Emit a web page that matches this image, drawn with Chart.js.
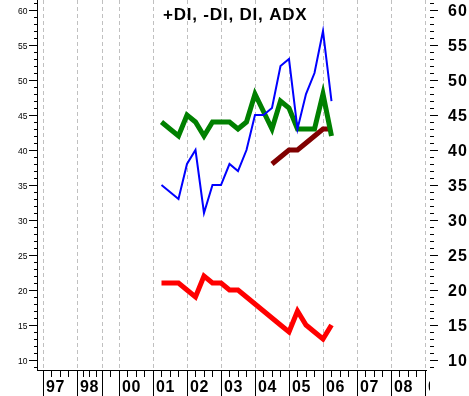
<!DOCTYPE html>
<html>
<head>
<meta charset="utf-8">
<script src="https://cdn.jsdelivr.net/npm/chart.js@4/dist/chart.umd.min.js"></script>
<style>
  html, body { margin: 0; padding: 0; background: #fff; }
  #wrap { width: 469px; height: 396px; }
</style>
</head>
<body>
<div id="wrap"><canvas id="diChart" width="469" height="396"></canvas></div>
<script>
// ── +DI / -DI / DI / ADX – quarterly ──

const dates   = [2001.25,2001.5,2001.75,2002,2002.25,2002.5,2002.75,2003,2003.25,2003.5,2003.75,
                 2004,2004.25,2004.5,2004.75,2005,2005.25,2005.5,2005.75,2006,2006.25];
const plusDI  = [35,34,33,38,40,31,35,35,38,37,40,45,45,46,52,53,43,48,51,57,47];
const minusDI = [21,21,21,20,19,22,21,21,20,20,19,18,17,16,15,14,17,15,14,13,15];
const diLine  = [44,43,42,45,44,42,44,44,44,43,44,48,45.5,43,47,46,43,43,43,48,42];
const adx     = [null,null,null,null,null,null,null,null,null,null,null,null,null,38,39,40,40,41,42,43,43];

// year boundaries on the time axis (early years are squeezed in the source)
const yearTicks  = [1997.765,1998.765,1999.5,2000,2001,2002,2003,2004,2005,2006,2007,2008,2009];
const yearLabels = ['97','98','','00','01','02','03','04','05','06','07','08','09'];
const yLabels    = [10,15,20,25,30,35,40,45,50,55,60];

const pts = arr => dates.map((d, i) => ({ x: d, y: arr[i] }));

const decor = {
  id: 'decor',
  beforeDatasetsDraw(chart) {
    const { ctx, chartArea: a, scales: { x } } = chart;
    ctx.save();
    ctx.strokeStyle = '#c0c0c0'; ctx.lineWidth = 1; ctx.setLineDash([4, 3]);
    yearTicks.forEach(t => {
      const px = Math.round(x.getPixelForValue(t)) + 0.5;
      ctx.beginPath(); ctx.moveTo(px, a.top); ctx.lineTo(px, a.bottom); ctx.stroke();
    });
    ctx.restore();
  },
  afterDraw(chart) {
    const { ctx, chartArea: a, scales: { x, y } } = chart;
    ctx.save();
    ctx.fillStyle = '#000';
    // axis lines
    ctx.fillRect(a.left - 1, a.top, 1, a.bottom - a.top + 1);
    ctx.fillRect(a.left - 1, a.bottom, a.right - a.left + 1, 1);
    // y ticks both sides
    for (let v = 9; v <= 61; v++) {
      const py = Math.round(y.getPixelForValue(v));
      const major = v % 5 === 0;
      ctx.fillRect(major ? a.left - 9 : a.left - 4, py, major ? 8 : 3, 1);
      ctx.fillRect(a.right + 3, py, major ? 8 : 4, 1);
    }
    // left labels (small)
    ctx.font = '8.5px "Liberation Sans", Arial, sans-serif';
    ctx.textAlign = 'right'; ctx.textBaseline = 'alphabetic';
    yLabels.forEach(v => ctx.fillText(String(v), a.left - 10.5, Math.round(y.getPixelForValue(v)) + 3.5));
    // right labels (bold)
    ctx.font = 'bold 16px "Liberation Sans", Arial, sans-serif';
    ctx.letterSpacing = '1px';
    ctx.textAlign = 'left';
    yLabels.forEach(v => ctx.fillText(String(v), a.right + 21, Math.round(y.getPixelForValue(v)) + 6));
    // x ticks and labels
    ctx.beginPath(); ctx.rect(0, 0, a.right + 3, chart.height); ctx.clip();
    yearTicks.forEach((t, i) => {
      const px = Math.round(x.getPixelForValue(t));
      ctx.fillRect(px, a.bottom, 1, chart.height - a.bottom);
      const next = i + 1 < yearTicks.length ? yearTicks[i + 1] : t + 1;
      const span = next - t;
      const steps = span < 0.6 ? [0.5] : [0.25, 0.5, 0.75];
      steps.forEach(f => ctx.fillRect(Math.round(x.getPixelForValue(t + span * f)), a.bottom, 1, 7));
    });
    ctx.letterSpacing = '0.5px';
    yearLabels.forEach((l, i) => {
      if (l) ctx.fillText(l, Math.round(x.getPixelForValue(yearTicks[i])) + 3, 392);
    });
    ctx.restore();
    // title
    ctx.save();
    ctx.font = 'bold 17px "Liberation Sans", Arial, sans-serif';
    ctx.letterSpacing = '0.8px';
    ctx.fillStyle = '#000'; ctx.textAlign = 'left'; ctx.textBaseline = 'alphabetic';
    ctx.fillText('+DI, -DI, DI, ADX', 163, 20);
    ctx.restore();
  }
};

new Chart(document.getElementById('diChart').getContext('2d'), {
  type: 'line',
  data: {
    datasets: [
      { label: '+DI', data: pts(plusDI),  borderColor: '#0000ff', borderWidth: 2 },
      { label: 'DI',  data: pts(diLine),  borderColor: '#008000', borderWidth: 5 },
      { label: 'ADX', data: pts(adx),     borderColor: '#800000', borderWidth: 5 },
      { label: '-DI', data: pts(minusDI), borderColor: '#ff0000', borderWidth: 5 }
    ]
  },
  options: {
    responsive: false, animation: false,
    layout: { padding: { left: 38, right: 42, top: 0, bottom: 26 } },
    elements: { line: { tension: 0, fill: false }, point: { radius: 0, hoverRadius: 0 } },
    plugins: { legend: { display: false }, tooltip: { enabled: false }, title: { display: false } },
    scales: {
      x: { type: 'linear', min: 1997.618, max: 2009.059, display: false },
      y: { type: 'linear', min: 8.571, max: 61.43, display: false }
    }
  },
  plugins: [decor]
});
</script>
</body>
</html>
